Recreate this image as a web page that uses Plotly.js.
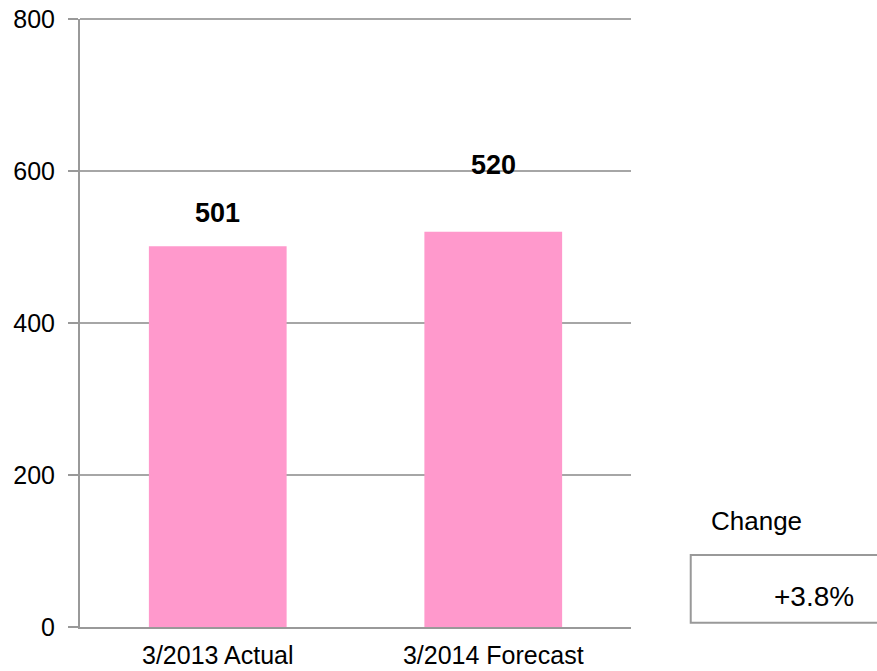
<!DOCTYPE html>
<html>
<head>
<meta charset="utf-8">
<script src="https://cdn.plot.ly/plotly-3.0.1.min.js"></script>
<style>
  html, body { margin: 0; padding: 0; background: #ffffff; }
  #chart { width: 877px; height: 671px; }
</style>
</head>
<body>
<div id="chart"></div>
<script>
// Data
const categories = ["3/2013 Actual", "3/2014 Forecast"];
const values = [501, 520];
const labelOffsets = [44, 88];
const changeTitle = "Change";
const changeText = "+3.8%";
const yTicks = [0, 200, 400, 600, 800];

const FONT = "Liberation Sans, Arial, sans-serif";
const GREY = "#999999";
const GRID = "#a6a6a6";

const trace = {
  type: "bar",
  x: categories,
  y: values,
  marker: { color: "#FF99CC", line: { width: 0 } },
  hoverinfo: "none"
};

const annotations = categories.map((c, i) => ({
  x: c, y: values[i] + labelOffsets[i], xref: "x", yref: "y",
  text: "<b>" + values[i] + "</b>", showarrow: false,
  xanchor: "center", yanchor: "middle",
  font: { family: FONT, size: 27, color: "#000000" }
}));

annotations.push({
  x: 1.2278, y: 0.1743, xref: "paper", yref: "paper",
  text: changeTitle, showarrow: false, xanchor: "center", yanchor: "middle",
  font: { family: FONT, size: 26, color: "#000000" }
});
annotations.push({
  x: 1.3321, y: 0.0502, xref: "paper", yref: "paper",
  text: changeText, showarrow: false, xanchor: "center", yanchor: "middle",
  font: { family: FONT, size: 28, color: "#000000" }
});

const layout = {
  width: 877, height: 671,
  margin: { l: 80, r: 246, t: 19, b: 44, pad: 0 },
  paper_bgcolor: "#ffffff", plot_bgcolor: "#ffffff",
  showlegend: false,
  bargap: 0.5,
  font: { family: FONT, size: 25, color: "#000000" },
  xaxis: {
    type: "category",
    showline: true, linecolor: GREY, linewidth: 2,
    showgrid: false, zeroline: false, ticks: "",
    tickfont: { family: FONT, size: 25, color: "#000000" },
    ticklabelstandoff: 5,
    fixedrange: true
  },
  yaxis: {
    range: [0, 800],
    tickvals: yTicks, ticktext: yTicks.map(String),
    showline: true, linecolor: GREY, linewidth: 2,
    ticks: "outside", ticklen: 10, tickwidth: 2, tickcolor: GREY,
    showgrid: true, gridcolor: GRID, gridwidth: 2,
    zeroline: false,
    tickfont: { family: FONT, size: 25, color: "#000000" },
    ticklabelstandoff: 8,
    fixedrange: true
  },
  shapes: [
    {
      type: "line", xref: "paper", yref: "paper",
      x0: 0, x1: 1, y0: 1, y1: 1,
      line: { color: GRID, width: 2 }
    },
    {
      type: "rect", xref: "paper", yref: "paper",
      x0: 1.1084, x1: 1.46, y0: 0.0071, y1: 0.1184,
      line: { color: GREY, width: 2 }, fillcolor: "rgba(0,0,0,0)"
    }
  ],
  annotations: annotations
};

Plotly.newPlot("chart", [trace], layout, { displayModeBar: false, staticPlot: true });
</script>
</body>
</html>
